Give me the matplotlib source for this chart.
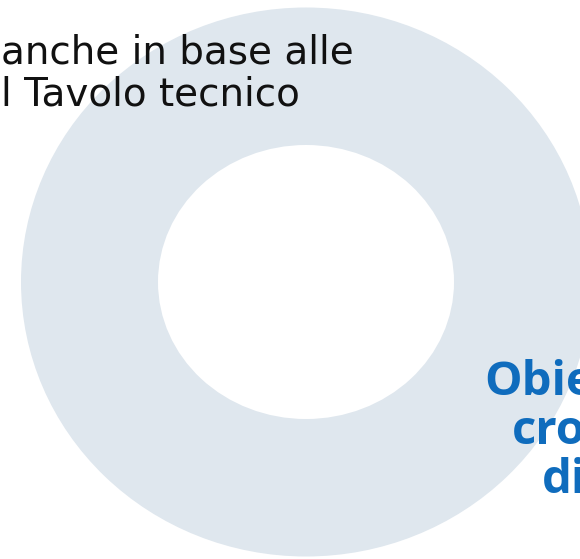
import matplotlib
matplotlib.use('Agg')
import matplotlib.pyplot as plt
from matplotlib.patches import Ellipse

# text content
left_lines = ["anche in base alle", "l Tavolo tecnico"]
right_lines = ["Obie", "cro", "di"]

# ring geometry (pixel space)
ring_center = (306, 282)
ring_outer = (570, 549)
ring_inner = (296, 274)
ring_color = "#dfe7ee"
blue = "#0f6cbd"

fig = plt.figure(figsize=(5.8, 5.59), dpi=100)
ax = fig.add_axes([0, 0, 1, 1])
ax.set_xlim(0, 580)
ax.set_ylim(559, 0)
ax.axis("off")

ax.add_patch(Ellipse(ring_center, *ring_outer, color=ring_color, lw=0))
ax.add_patch(Ellipse(ring_center, *ring_inner, color="white", lw=0))

for i, line in enumerate(left_lines):
    ax.text(1, 63 + i * 43, line, fontsize=28, family="DejaVu Sans",
            color="#111111", ha="left", va="baseline")

right_x = [484, 512, 542]
for i, line in enumerate(right_lines):
    ax.text(right_x[i], 395 + i * 49, line, fontsize=34, family="Open Sans",
            fontweight="bold", color=blue, ha="left", va="baseline")

fig.savefig("out.png", dpi=100)
plt.close(fig)
